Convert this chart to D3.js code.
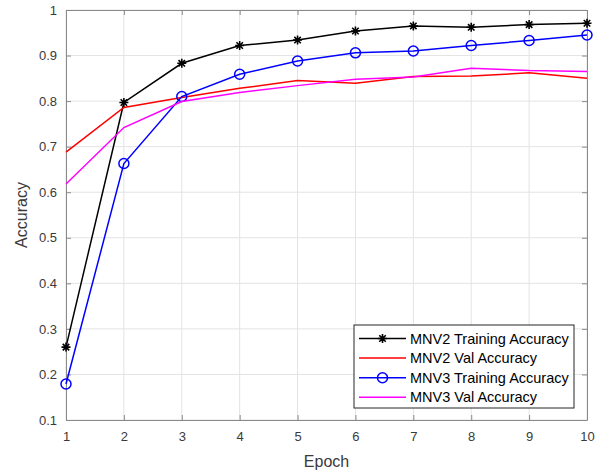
<!DOCTYPE html>
<html>
<head>
<meta charset="utf-8">
<script src="https://cdn.jsdelivr.net/npm/d3@7"></script>
<style>
	body { margin: 0; background: #fff; }
	svg text { font-family: Arial, "Liberation Sans", sans-serif; }
</style>
</head>
<body>
<div id="chart"></div>
<script>
// data
const epochs = [1, 2, 3, 4, 5, 6, 7, 8, 9, 10];
const mnv2Train = [0.260, 0.797, 0.883, 0.922, 0.934, 0.954, 0.965, 0.962, 0.968, 0.971];
const mnv2Val = [0.688, 0.786, 0.808, 0.828, 0.845, 0.839, 0.854, 0.855, 0.862, 0.850];
const mnv3Train = [0.179, 0.663, 0.810, 0.859, 0.888, 0.906, 0.910, 0.922, 0.933, 0.945];
const mnv3Val = [0.618, 0.742, 0.799, 0.819, 0.834, 0.848, 0.853, 0.872, 0.867, 0.865];
const yTicks = [0.1, 0.2, 0.3, 0.4, 0.5, 0.6, 0.7, 0.8, 0.9, 1];

const series = [
	{ name: "MNV2 Training Accuracy", values: mnv2Train, color: "#000000", marker: "star" },
	{ name: "MNV2 Val Accuracy", values: mnv2Val, color: "#ff0000", marker: null },
	{ name: "MNV3 Training Accuracy", values: mnv3Train, color: "#0000ff", marker: "circle" },
	{ name: "MNV3 Val Accuracy", values: mnv3Val, color: "#ff00ff", marker: null }
];

const width = 603, height = 475;
const margin = { top: 10, right: 16, bottom: 55, left: 66 };
const innerWidth = width - margin.left - margin.right;
const innerHeight = height - margin.top - margin.bottom;
const AXIS_COLOR = "#8a8a8a";
const TEXT_COLOR = "#3a3a3a";

const svg = d3.select("#chart").append("svg")
	.attr("width", width)
	.attr("height", height);

const g = svg.append("g").attr("transform", `translate(${margin.left},${margin.top})`);

const x = d3.scaleLinear().domain([1, 10]).range([0, innerWidth]);
const y = d3.scaleLinear().domain([0.1, 1]).range([innerHeight, 0]);

// grid
g.append("g").selectAll("line").data(epochs).enter().append("line")
	.attr("x1", d => x(d)).attr("x2", d => x(d))
	.attr("y1", 0).attr("y2", innerHeight)
	.attr("stroke", "#e3e3e3");
g.append("g").selectAll("line").data(yTicks).enter().append("line")
	.attr("y1", d => y(d)).attr("y2", d => y(d))
	.attr("x1", 0).attr("x2", innerWidth)
	.attr("stroke", "#e3e3e3");

// axes (ticks inward, box on)
const tickLen = 5;
g.append("g").attr("transform", `translate(0,${innerHeight})`)
	.call(d3.axisBottom(x).tickValues(epochs).tickSizeInner(-tickLen).tickSizeOuter(0).tickPadding(12));
g.append("g")
	.call(d3.axisLeft(y).tickValues(yTicks).tickSizeInner(-tickLen).tickSizeOuter(0).tickPadding(9)
		.tickFormat(d => d === 1 ? "1" : d3.format(".1f")(d)));
// top and right: box with inward ticks, no labels
g.append("g").attr("class", "bare")
	.call(d3.axisTop(x).tickValues(epochs).tickSizeInner(-tickLen).tickSizeOuter(0));
g.append("g").attr("class", "bare").attr("transform", `translate(${innerWidth},0)`)
	.call(d3.axisRight(y).tickValues(yTicks).tickSizeInner(-tickLen).tickSizeOuter(0));
g.selectAll(".bare .tick text").remove();

g.selectAll(".domain").attr("stroke", AXIS_COLOR);
g.selectAll(".tick line").attr("stroke", AXIS_COLOR);
g.selectAll(".tick text").attr("fill", TEXT_COLOR).style("font-size", "13px");

// axis labels
svg.append("text")
	.attr("x", margin.left + innerWidth / 2)
	.attr("y", 467)
	.attr("text-anchor", "middle")
	.attr("fill", TEXT_COLOR)
	.style("font-size", "16px")
	.text("Epoch");
svg.append("text")
	.attr("transform", `translate(27,${margin.top + innerHeight / 2}) rotate(-90)`)
	.attr("text-anchor", "middle")
	.attr("fill", TEXT_COLOR)
	.style("font-size", "16px")
	.text("Accuracy");

// lines
const line = d3.line().x((d, i) => x(epochs[i])).y(d => y(d));

// draw markers: asterisk as + and x, or open circle
function drawMarker(sel, type, color) {
	if (type === "star") {
		const s = 4.5, t = s * 0.72;
		sel.append("path")
			.attr("d", `M${-s},0L${s},0M0,${-s}L0,${s}M${-t},${-t}L${t},${t}M${-t},${t}L${t},${-t}`)
			.attr("stroke", color).attr("stroke-width", 1.6).attr("fill", "none");
	} else if (type === "circle") {
		sel.append("circle")
			.attr("r", 5)
			.attr("stroke", color).attr("stroke-width", 1.5).attr("fill", "none");
	}
}

series.forEach(s => {
	g.append("path")
		.datum(s.values)
		.attr("d", line)
		.attr("fill", "none")
		.attr("stroke", s.color)
		.attr("stroke-width", 1.5);
	if (s.marker) {
		g.append("g").selectAll("g").data(s.values).enter().append("g")
			.attr("transform", (d, i) => `translate(${x(epochs[i])},${y(d)})`)
			.each(function () { drawMarker(d3.select(this), s.marker, s.color); });
	}
});

// legend
const legend = svg.append("g").attr("transform", "translate(354,325)");
legend.append("rect")
	.attr("width", 220).attr("height", 83)
	.attr("fill", "#fff")
	.attr("stroke", "#262626")
	.attr("stroke-width", 1);
const rows = legend.selectAll("g.row").data(series).enter().append("g")
	.attr("class", "row")
	.attr("transform", (d, i) => `translate(0,${13.5 + i * 19.6})`);
rows.append("line")
	.attr("x1", 5).attr("x2", 52)
	.attr("stroke", d => d.color)
	.attr("stroke-width", 1.5);
rows.each(function (d) {
	if (d.marker) {
		const m = d3.select(this).append("g").attr("transform", "translate(28.5,0)");
		drawMarker(m, d.marker, d.color);
	}
});
rows.append("text")
	.attr("x", 56)
	.attr("y", 5)
	.attr("fill", "#000")
	.style("font-size", "14.5px")
	.text(d => d.name);
</script>
</body>
</html>
